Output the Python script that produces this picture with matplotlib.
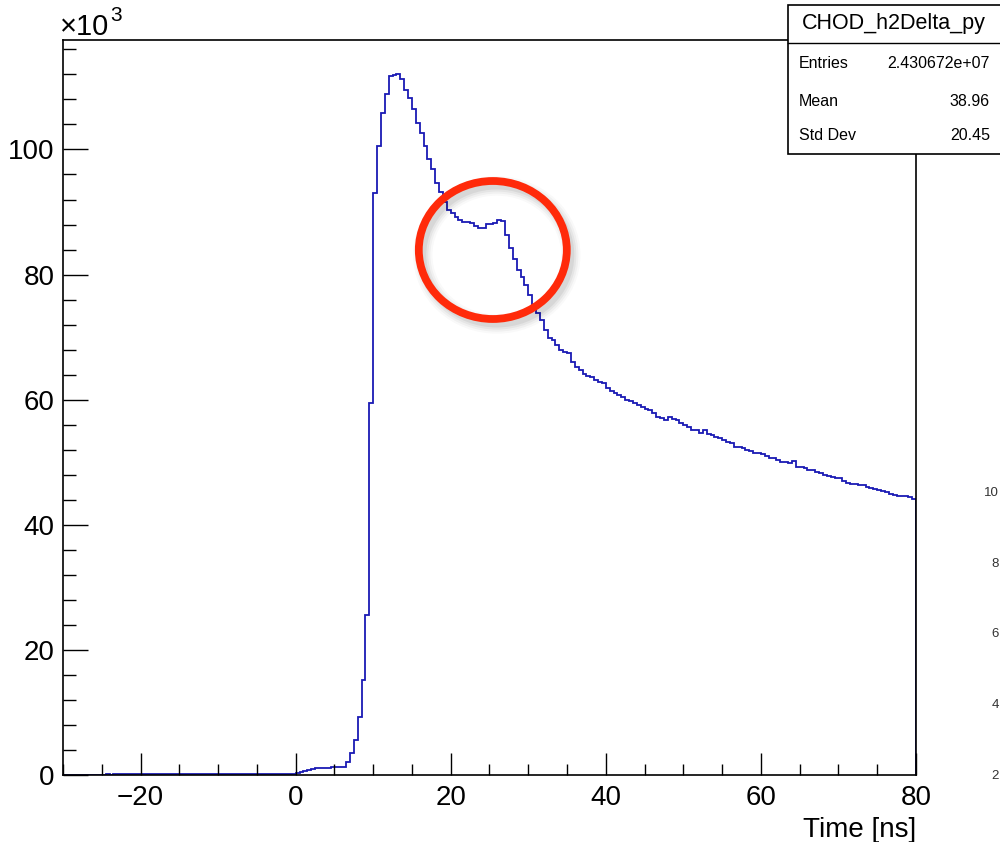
import numpy as np
import matplotlib
matplotlib.use("Agg")
import matplotlib.pyplot as plt
from matplotlib.patches import Rectangle, Ellipse
from matplotlib.lines import Line2D

plt.rcParams['font.family'] = ['Liberation Sans', 'DejaVu Sans']

# ---------------- data (counts in units of 10^3, 0.5 ns bins) ----------------
x_min, x_max, bin_width = -30.0, 80.0, 0.5

counts_pre = [0.06, 0.05, 0.06, 0.07, 0.06, 0.06, 0.07, 0.06, 0.07, 0.07,
              0.07, 0.08, 0.07, 0.08, 0.08, 0.08, 0.09, 0.08, 0.09, 0.09,
              0.09, 0.10, 0.10, 0.10, 0.11, 0.10, 0.11, 0.11, 0.12, 0.11,
              0.12, 0.12, 0.12, 0.13, 0.12, 0.13, 0.13, 0.14, 0.13, 0.14,
              0.14, 0.14, 0.15, 0.15, 0.15, 0.16, 0.15, 0.16, 0.16, 0.17,
              0.17, 0.17, 0.18, 0.18, 0.19, 0.19, 0.20, 0.20, 0.21, 0.22]
counts_0_10 = [0.25, 0.45, 0.65, 0.80, 0.95, 1.05, 1.10, 1.15, 1.15, 1.20,
               1.20, 1.20, 1.25, 2.0, 3.5, 5.6, 9.3, 15.2, 25.5, 59.5]
counts_10_20 = [93.0, 100.6, 105.8, 108.9, 111.7, 111.9, 112.0, 111.3, 109.5, 108.2,
                106.5, 104.2, 102.7, 100.5, 98.4, 96.8, 94.6, 93.2, 91.6, 90.3]
counts_20_30 = [89.8, 89.2, 88.7, 88.4, 88.4, 88.2, 87.7, 87.5, 87.5, 88.1,
                88.1, 88.2, 88.7, 88.6, 86.3, 84.3, 82.5, 80.7, 79.6, 78.3]
counts_30_80 = [76.7, 75.2, 73.8, 72.7, 71.1, 69.8, 69.5, 68.7, 67.9, 67.6,
                67.4, 66.0, 65.2, 64.7, 64.1, 63.8, 63.6, 63.1, 62.8, 62.6,
                61.8, 61.4, 61.0, 60.7, 60.5, 60.0, 59.8, 59.5, 59.2, 58.9,
                58.5, 58.4, 57.9, 57.2, 57.0, 56.7, 57.3, 56.9, 56.7, 56.2,
                55.9, 55.6, 55.2, 55.1, 54.7, 55.1, 54.5, 54.3, 54.0, 53.8,
                53.5, 53.2, 53.0, 52.5, 52.4, 52.2, 51.9, 51.8, 51.5, 51.4,
                51.3, 51.0, 50.7, 50.6, 50.4, 50.1, 50.0, 49.8, 50.2, 49.3,
                49.2, 49.0, 48.8, 48.7, 48.5, 48.2, 47.9, 47.8, 47.6, 47.5,
                47.4, 47.0, 46.7, 46.6, 46.5, 46.3, 46.3, 46.1, 45.9, 45.8,
                45.5, 45.4, 45.3, 45.0, 44.7, 44.6, 44.6, 44.6, 44.4, 44.2]

x_ticks = [-20, 0, 20, 40, 60, 80]
y_ticks = [0, 20, 40, 60, 80, 100]
x_label = "Time [ns]"
hist_name = "CHOD_h2Delta_py"
stat_names = ["Entries", "Mean", "Std Dev"]
stat_values = ["2.430672e+07", "38.96", "20.45"]
side_labels = ["10", "8", "6", "4", "2"]

counts = np.array(counts_pre + counts_0_10 + counts_10_20 + counts_20_30 + counts_30_80)
edges = np.linspace(x_min, x_max, len(counts) + 1)

# ---------------- figure ----------------
W, H = 1000, 842
fig = plt.figure(figsize=(W / 100, H / 100), dpi=100)

def fx(px):
    return px / W

def fy(py):
    return 1 - py / H

ax_l, ax_r, ax_t, ax_b = 63, 916, 40, 775
ax = fig.add_axes([fx(ax_l), fy(ax_b), fx(ax_r - ax_l), (ax_b - ax_t) / H])
ax.stairs(counts, edges, color='#1a1ab4', linewidth=1.3)
ax.set_xlim(x_min, x_max)
ax.set_ylim(0, 117.5)

ax.set_xticks(x_ticks)
ax.set_xticks(np.arange(-30, 80.1, 5), minor=True)
ax.set_yticks(y_ticks)
ax.set_yticks(np.arange(0, 117.5, 4), minor=True)
ax.tick_params(axis='x', which='major', direction='in', length=15.8, width=1.0,
               labelsize=20, pad=7)
ax.tick_params(axis='x', which='minor', direction='in', length=7.9, width=1.0)
ax.tick_params(axis='y', which='major', direction='in', length=18, width=1.0,
               labelsize=20, pad=6)
ax.tick_params(axis='y', which='minor', direction='in', length=9.2, width=1.0)
for s in ax.spines.values():
    s.set_linewidth(1.2)

fig.text(fx(ax_r), fy(837), x_label, ha='right', va='baseline', fontsize=20)

# x10^3 multiplier
fig.text(fx(60), fy(35), "×10", ha='left', va='baseline', fontsize=21)
fig.text(fx(110), fy(21), "3", ha='left', va='baseline', fontsize=15)

# ---------------- stats box ----------------
bx0, by0, bx1, by1 = 788, 5, 1010, 154
fig.add_artist(Rectangle((fx(bx0), fy(by1)), fx(bx1 - bx0), (by1 - by0) / H,
                         facecolor='white', edgecolor='black', linewidth=1.2,
                         zorder=5))
fig.add_artist(Line2D([fx(bx0), fx(bx1)], [fy(43), fy(43)], color='black',
                      linewidth=1.0, zorder=6))
fig.text(fx(894), fy(24), hist_name, ha='center', va='center', fontsize=15.5, zorder=7)
for name, val, yy in zip(stat_names, stat_values, [63, 101, 136]):
    fig.text(fx(799), fy(yy), name, ha='left', va='center', fontsize=11.5, zorder=7)
    fig.text(fx(990), fy(yy), val, ha='right', va='center', fontsize=11.5, zorder=7)

# ---------------- labels of a neighbouring panel at the right edge ----------------
for lab, yy in zip(side_labels, [493, 564, 634, 705, 776]):
    fig.text(fx(999), fy(yy), lab, ha='right', va='center', fontsize=9.5,
             color='#333333')

# ---------------- red circle annotation with soft shadow ----------------
cx, cy, ew, eh = 492.8, 250, 148, 138
for lw, a in [(14, 0.025), (11, 0.035), (8, 0.045), (5, 0.06)]:
    fig.add_artist(Ellipse((fx(cx + 4), fy(cy + 5)), fx(ew), eh / H,
                           fill=False, edgecolor='black', linewidth=lw,
                           alpha=a, zorder=8))
fig.add_artist(Ellipse((fx(cx), fy(cy)), fx(ew), eh / H, fill=False,
                       edgecolor='#ff2a0a', linewidth=5.6, zorder=9))

fig.savefig("out.png", dpi=100)
